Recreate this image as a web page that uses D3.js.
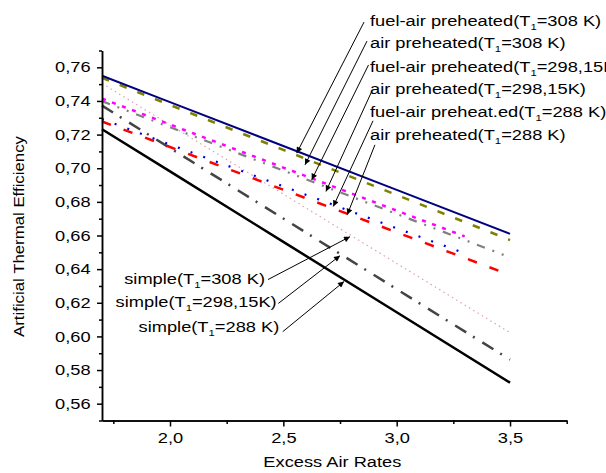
<!DOCTYPE html>
<html>
<head>
<meta charset="utf-8">
<script src="https://cdn.jsdelivr.net/npm/d3@7"></script>
<style>
  body { margin: 0; background: #fff; }
  svg text { font-family: "Liberation Sans", Arial, sans-serif; fill: #000; }
</style>
</head>
<body>
<div id="chart"></div>
<script>
// x values (excess air rate)
const xFull = [1.7, 2.0, 2.5, 3.0, 3.5];
const xShort = [1.7, 2.0, 2.5, 3.0, 3.3];

// artificial thermal efficiency
const fuelAir308 = [0.755, 0.7393, 0.7132, 0.6871, 0.661];
const air308 = [0.7537, 0.7376, 0.7109, 0.6841, 0.6573];
const fuelAir298 = [0.7414, 0.7260, 0.7004, 0.6748, 0.6595];
const air298 = [0.7399, 0.7244, 0.6986, 0.6728, 0.6470];
const fuelAir288 = [0.7292, 0.7141, 0.6892, 0.6643, 0.6494];
const air288 = [0.7278, 0.7126, 0.6872, 0.6619, 0.6365];
const simple308 = [0.7504, 0.7257, 0.6846, 0.6434, 0.6022];
const simple298 = [0.7372, 0.7120, 0.6701, 0.6281, 0.5862];
const simple288 = [0.7232, 0.6981, 0.6562, 0.6144, 0.5725];

const xMajor = [2.0, 2.5, 3.0, 3.5];
const xMinor = [1.75, 2.25, 2.75, 3.25, 3.75];
const yMajor = [0.56, 0.58, 0.60, 0.62, 0.64, 0.66, 0.68, 0.70, 0.72, 0.74, 0.76];
const yMinor = [0.55, 0.57, 0.59, 0.61, 0.63, 0.65, 0.67, 0.69, 0.71, 0.73, 0.75, 0.77];

// label text pieces: before subscript, subscript, after
const topLabels = [
  ["fuel-air preheated(T", "1", "=308 K)"],
  ["air preheated(T", "1", "=308 K)"],
  ["fuel-air preheated(T", "1", "=298,15K)"],
  ["air preheated(T", "1", "=298,15K)"],
  ["fuel-air preheat.ed(T", "1", "=288 K)"],
  ["air preheated(T", "1", "=288 K)"]
];
const simpleLabels = [
  ["simple(T", "1", "=308 K)"],
  ["simple(T", "1", "=298,15K)"],
  ["simple(T", "1", "=288 K)"]
];

// series drawing order and styles
const series = [
  {x: xFull, y: simple308, color: "#dca2ae", w: 1.2, dash: "1.5,3.5"},
  {x: xFull, y: simple298, color: "#444444", w: 2.5, dash: "13,8,2,9"},
  {x: xFull, y: simple288, color: "#000000", w: 2.5, dash: null},
  {x: xFull, y: air288, color: "#ff0000", w: 2.5, dash: "9.5,13.5"},
  {x: xShort, y: fuelAir288, color: "#0000dd", w: 2.2, dash: "2,11.5"},
  {x: xFull, y: air298, color: "#808080", w: 2.2, dash: "8.5,8,2,8,2,8"},
  {x: xShort, y: fuelAir298, color: "#ff00ff", w: 2.5, dash: "4,6.7"},
  {x: xFull, y: air308, color: "#808000", w: 2.5, dash: "7.5,11.5"},
  {x: xFull, y: fuelAir308, color: "#000080", w: 2, dash: null}
];

const width = 606, height = 473;
const margin = {top: 50.5, right: 39.3, bottom: 52.5, left: 102};
const SX = 1.26; // glyphs in the picture are wider than Arial

const svg = d3.select("#chart").append("svg")
  .attr("width", width).attr("height", height);

const x = d3.scaleLinear().domain([1.7, 3.75]).range([margin.left, width - margin.right]);
const y = d3.scaleLinear().domain([0.55, 0.77]).range([height - margin.bottom, margin.top]);

const loc = d3.formatLocale({decimal: ",", thousands: ".", grouping: [3], currency: ["", ""]});

svg.append("defs").append("marker")
  .attr("id", "arrow")
  .attr("viewBox", "0 0 10 10")
  .attr("refX", 10).attr("refY", 5)
  .attr("markerUnits", "userSpaceOnUse")
  .attr("markerWidth", 8).attr("markerHeight", 6)
  .attr("orient", "auto")
  .append("path").attr("d", "M0,0L10,5L0,10z").attr("fill", "#000");

// lines
const line = d3.line().x(d => x(d[0])).y(d => y(d[1]));
svg.append("g").selectAll("path")
  .data(series)
  .join("path")
    .attr("d", s => line(s.x.map((v, i) => [v, s.y[i]])))
    .attr("fill", "none")
    .attr("stroke", s => s.color)
    .attr("stroke-width", s => s.w)
    .attr("stroke-dasharray", s => s.dash);

// axes
function styleAxis(g) {
  g.selectAll(".domain").attr("stroke-width", 1.5);
  g.selectAll(".tick line").attr("stroke-width", 1.5);
  g.selectAll("text")
    .style("font-size", "14.5px")
    .attr("fill", "#000")
    .attr("transform", `scale(${SX},1)`);
}

const xAxis = svg.append("g").attr("transform", `translate(0,${y(0.55)})`);
xAxis.append("g")
  .call(d3.axisBottom(x).tickValues(xMinor).tickSize(3.5).tickSizeOuter(0).tickFormat(""))
  .call(styleAxis);
xAxis.append("g")
  .call(d3.axisBottom(x).tickValues(xMajor).tickSize(6).tickPadding(6).tickSizeOuter(0).tickFormat(loc.format(".1f")))
  .call(styleAxis);

const yAxis = svg.append("g").attr("transform", `translate(${x(1.7)},0)`);
yAxis.append("g")
  .call(d3.axisLeft(y).tickValues(yMinor).tickSize(3).tickSizeOuter(0).tickFormat(""))
  .call(styleAxis);
yAxis.append("g")
  .call(d3.axisLeft(y).tickValues(yMajor).tickSize(5).tickPadding(4).tickSizeOuter(0).tickFormat(loc.format(".2f")))
  .call(styleAxis);

// axis titles
svg.append("text")
  .attr("transform", `translate(${(x(1.7) + x(3.75)) / 2 - 2},467) scale(${SX},1)`)
  .attr("text-anchor", "middle")
  .style("font-size", "14.5px")
  .text("Excess Air Rates");

svg.append("text")
  .attr("transform", `translate(23.5,${(y(0.55) + y(0.77)) / 2 + 1}) rotate(-90) scale(1.2,1)`)
  .attr("text-anchor", "middle")
  .style("font-size", "14px")
  .text("Artificial Thermal Efficiency");

// annotations (positions in data units)
function label(px, py, parts, anchor) {
  const t = svg.append("text")
    .attr("transform", `translate(${px},${py}) scale(${SX},1)`)
    .attr("text-anchor", anchor)
    .style("font-size", "14.5px");
  t.append("tspan").text(parts[0]);
  t.append("tspan").attr("dy", 4).style("font-size", "9px").text(parts[1]);
  t.append("tspan").attr("dy", -4).text(parts[2]);
}

const topText = [[2.8823, 0.7845], [2.8823, 0.7712], [2.8823, 0.7575], [2.8823, 0.7442], [2.8823, 0.7305], [2.8823, 0.7169]];
const topTail = [[2.856, 0.7869], [2.869, 0.7756], [2.8757, 0.7614], [2.889, 0.7454], [2.8956, 0.7282], [2.904, 0.7139]];
const topTip = [[2.559, 0.709], [2.5955, 0.702], [2.625, 0.6931], [2.688, 0.6862], [2.7204, 0.6773], [2.782, 0.6724]];

const simpleText = [[2.419, 0.6314], [2.4707, 0.6172], [2.4822, 0.6028]];
const simpleTail = [[2.4323, 0.6338], [2.4778, 0.6196], [2.4972, 0.6028]];
const simpleTip = [[2.794, 0.6593], [2.75, 0.648], [2.7676, 0.6326]];

function arrows(tails, tips) {
  svg.append("g").selectAll("line")
    .data(tails)
    .join("line")
      .attr("x1", d => x(d[0])).attr("y1", d => y(d[1]))
      .attr("x2", (d, i) => x(tips[i][0])).attr("y2", (d, i) => y(tips[i][1]))
      .attr("stroke", "#000").attr("stroke-width", 1)
      .attr("marker-end", "url(#arrow)");
}
arrows(topTail, topTip);
arrows(simpleTail, simpleTip);

topLabels.forEach((p, i) => label(x(topText[i][0]), y(topText[i][1]), p, "start"));
simpleLabels.forEach((p, i) => label(x(simpleText[i][0]), y(simpleText[i][1]), p, "end"));
</script>
</body>
</html>
